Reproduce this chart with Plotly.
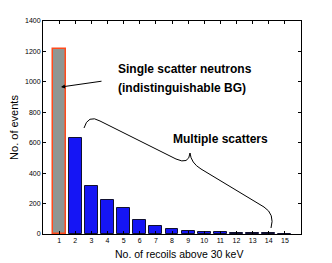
import plotly.graph_objects as go

recoils = list(range(1, 16))
events = [1215, 630, 316, 222, 171, 93, 55, 31, 23, 11, 11, 5, 6, 5, 0]
bar_colors = ["#8e9693"] + ["#1515f5"] * 14
edge_colors = ["#ff4a1c"] + ["#101030"] * 14
edge_widths = [1.5] + [1] * 14
x_ticks = list(range(1, 16))
y_ticks = list(range(0, 1401, 200))

OFF = 8  # page body margin
W, H = 332 - OFF, 263 - OFF
L, R, T, B = 43 - OFF, 31, 21 - OFF, 29
X0, X1, Y0, Y1 = 0, 16, 0, 1400
PW, PH = W - L - R, H - T - B

def px(xp, yp):
    xp -= OFF
    yp -= OFF
    x = X0 + (xp - L) / PW * (X1 - X0)
    y = Y0 + (H - B - yp) / PH * (Y1 - Y0)
    return x, y

def paper(xp, yp):
    xp -= OFF
    yp -= OFF
    return (xp - L) / PW, (H - B - yp) / PH

def path(cmds):
    out = []
    for c in cmds:
        if isinstance(c, str):
            out.append(c)
        else:
            x, y = px(*c)
            out.append(f"{x:.4f},{y:.2f}")
    return " ".join(out)

fig = go.Figure()
fig.add_trace(go.Bar(
    x=recoils, y=events, width=0.8,
    marker=dict(color=bar_colors, line=dict(color=edge_colors, width=edge_widths)),
))

font = "Liberation Sans, Arial, sans-serif"
axis_common = dict(showline=True, linecolor="black", linewidth=1, mirror="allticks",
                   ticks="inside", ticklen=3, tickcolor="black", showgrid=False,
                   automargin=False,
                   zeroline=False, tickfont=dict(size=7, family=font, color="black"))

fig.update_layout(
    width=W, height=H, margin=dict(l=L, r=R, t=T, b=B),
    plot_bgcolor="white", paper_bgcolor="white", showlegend=False, bargap=0,
    xaxis=dict(range=[X0, X1], tickvals=x_ticks, ticklabelstandoff=0, **axis_common),
    yaxis=dict(range=[Y0, Y1], tickvals=y_ticks, title=dict(text="No. of events",
               font=dict(size=11, family=font, color="black"), standoff=4), **axis_common),
)

# x-axis title as positioned text
tx, ty = paper(179, 254)
fig.add_annotation(x=tx, y=ty, xref="paper", yref="paper",
                   text="No. of recoils above 30 keV", showarrow=False,
                   xanchor="center", yanchor="middle",
                   font=dict(size=10.5, family=font, color="black"))

# brace
brace = path(["M", (84, 128), "Q", (88, 114), (100, 121), "L", (176, 159),
              "Q", (189, 165), (190, 153), "Q", (191, 163), (201, 169),
              "L", (264, 207), "Q", (275, 214), (271, 228)])
fig.add_shape(type="path", path=brace, xref="x", yref="y",
              line=dict(color="black", width=1))

hx, hy = px(61, 87)
fig.add_annotation(x=hx, y=hy, ax=42, ay=-6, xref="x", yref="y", text="",
                   showarrow=True, arrowhead=2, arrowsize=0.8, arrowwidth=1, arrowcolor="black")

for txt, (xp, yp) in [("Single scatter neutrons", (116, 69)),
                      ("(indistinguishable BG)", (116, 88))]:
    x, y = px(xp, yp)
    fig.add_annotation(x=x, y=y, xref="x", yref="y", text=f"<b>{txt}</b>", showarrow=False,
                       xanchor="left", yanchor="middle",
                       font=dict(size=12, family=font, color="black"))
x, y = px(220, 139)
fig.add_annotation(x=x, y=y, xref="x", yref="y", text="<b>Multiple scatters</b>", showarrow=False,
                   xanchor="center", yanchor="middle",
                   font=dict(size=12, family=font, color="black"))

fig.write_html("out.html")
